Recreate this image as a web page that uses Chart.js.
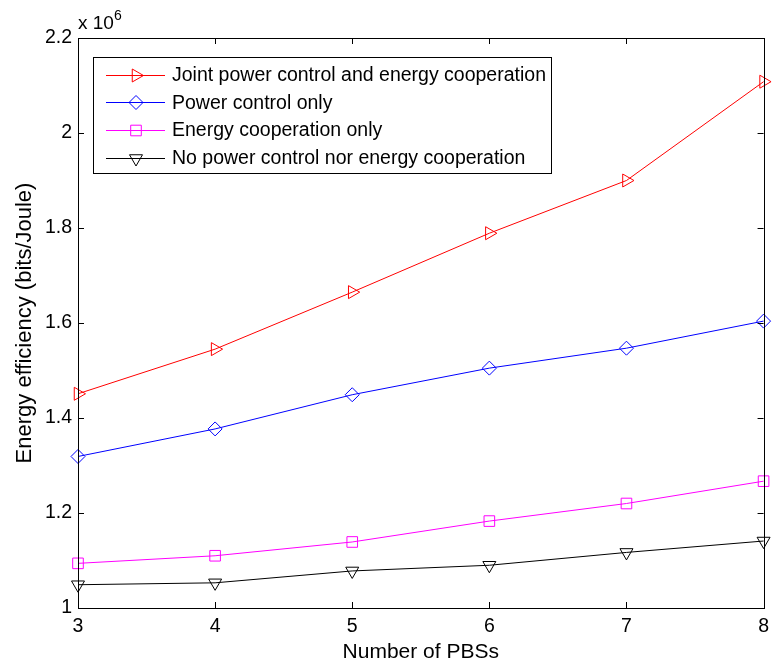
<!DOCTYPE html>
<html><head><meta charset="utf-8">
<script src="https://cdn.jsdelivr.net/npm/chart.js@4.4.1/dist/chart.umd.min.js"></script>
<style>html,body{margin:0;padding:0;background:#fff}#wrap{width:776px;height:668px}</style>
</head><body><div id="wrap"><canvas id="c" width="776" height="668"></canvas></div>
<script>
// ---- data (values in units of 10^6 bits/Joule) ----
const pbs = [3, 4, 5, 6, 7, 8];
const jointPcEc = [1.451, 1.545, 1.665, 1.789, 1.900, 2.108];
const pcOnly    = [1.319, 1.377, 1.449, 1.505, 1.547, 1.604];
const ecOnly    = [1.094, 1.110, 1.139, 1.183, 1.220, 1.267];
const noPcNoEc  = [1.049, 1.053, 1.078, 1.090, 1.117, 1.141];
const seriesNames = [
  'Joint power control and energy cooperation',
  'Power control only',
  'Energy cooperation only',
  'No power control nor energy cooperation'
];
const xTickValues = [3, 4, 5, 6, 7, 8];
const yTickValues = [1, 1.2, 1.4, 1.6, 1.8, 2, 2.2];
const yTickLabels = ['1', '1.2', '1.4', '1.6', '1.8', '2', '2.2'];
const xTitle = 'Number of PBSs';
const yTitle = 'Energy efficiency (bits/Joule)';

const FONT = '"Liberation Sans", Arial, Helvetica, sans-serif';

const styles = [
  {color: '#ff0000', pointStyle: 'triangle', radius: 7.5, rotation: 90},
  {color: '#0000ff', pointStyle: 'rectRot', radius: 7, rotation: 0},
  {color: '#ff00ff', pointStyle: 'rect', radius: 7.5, rotation: 0},
  {color: '#000000', pointStyle: 'triangle', radius: 7.5, rotation: 180}
];
const allSeries = [jointPcEc, pcOnly, ecOnly, noPcNoEc];

const datasets = allSeries.map((vals, i) => ({
  label: seriesNames[i],
  data: pbs.map((x, k) => ({x: x, y: vals[k]})),
  borderColor: styles[i].color,
  borderWidth: 1,
  pointStyle: styles[i].pointStyle,
  pointRadius: styles[i].radius,
  pointRotation: styles[i].rotation,
  pointBorderColor: styles[i].color,
  pointBackgroundColor: 'rgba(0,0,0,0)',
  pointBorderWidth: 1,
  tension: 0,
  fill: false,
  clip: false
}));

const frame = {
  id: 'frame',
  afterDraw(chart) {
    const {ctx, chartArea: a, scales} = chart;
    ctx.save();
    ctx.strokeStyle = '#000';
    ctx.lineWidth = 1;
    ctx.strokeRect(Math.round(a.left) + 0.5, Math.round(a.top) + 0.5,
                   Math.round(a.right - a.left), Math.round(a.bottom - a.top));
    const tl = 6;
    ctx.beginPath();
    xTickValues.forEach(v => {
      const x = Math.round(scales.x.getPixelForValue(v)) + 0.5;
      ctx.moveTo(x, a.bottom); ctx.lineTo(x, a.bottom - tl);
      ctx.moveTo(x, a.top); ctx.lineTo(x, a.top + tl);
    });
    yTickValues.forEach(v => {
      const y = Math.round(scales.y.getPixelForValue(v)) + 0.5;
      ctx.moveTo(a.left, y); ctx.lineTo(a.left + tl, y);
      ctx.moveTo(a.right, y); ctx.lineTo(a.right - tl, y);
    });
    ctx.stroke();

    // exponent label
    ctx.fillStyle = '#000';
    ctx.textBaseline = 'alphabetic';
    ctx.textAlign = 'left';
    ctx.font = '19px ' + FONT;
    ctx.fillText('x 10', 78, 29);
    ctx.font = '14px ' + FONT;
    ctx.fillText('6', 114, 20);

    // legend
    const lx = 93.5, ly = 57.5, lw = 458, lh = 116;
    ctx.fillStyle = '#fff';
    ctx.fillRect(lx, ly, lw, lh);
    ctx.strokeStyle = '#000';
    ctx.strokeRect(lx, ly, lw, lh);
    ctx.font = '19.5px ' + FONT;
    ctx.textBaseline = 'middle';
    seriesNames.forEach((name, i) => {
      const y = 74.7 + i * 27.7;
      const s = styles[i];
      ctx.strokeStyle = s.color;
      ctx.lineWidth = 1;
      ctx.beginPath();
      ctx.moveTo(106, Math.round(y) + 0.5); ctx.lineTo(165, Math.round(y) + 0.5);
      ctx.stroke();
      if (Chart.helpers && Chart.helpers.drawPoint) {
        ctx.fillStyle = 'rgba(0,0,0,0)';
        Chart.helpers.drawPoint(ctx, {pointStyle: s.pointStyle, radius: s.radius, rotation: s.rotation, borderWidth: 1}, 136, Math.round(y) + 0.5);
      }
      ctx.fillStyle = '#000';
      ctx.fillText(name, 172, y + 1);
    });
    ctx.restore();
  }
};

new Chart(document.getElementById('c'), {
  type: 'line',
  data: {datasets},
  options: {
    responsive: false,
    animation: false,
    devicePixelRatio: 1,
    layout: {padding: {top: 38, right: 6, left: 0, bottom: 0}},
    plugins: {legend: {display: false}, tooltip: {enabled: false}},
    scales: {
      x: {
        type: 'linear', min: 3, max: 8,
        grid: {display: false, drawTicks: false, tickLength: 0}, border: {display: false},
        afterBuildTicks: s => { s.ticks = xTickValues.map(v => ({value: v})); },
        afterFit: s => { s.height = 60; },
        ticks: {color: '#000', padding: 7, maxRotation: 0, autoSkip: false,
                font: {family: FONT, size: 19.5, lineHeight: 1.2},
                callback: v => String(v)},
        title: {display: true, text: xTitle, color: '#000',
                font: {family: FONT, size: 21, lineHeight: 1.2},
                padding: {top: 0, bottom: 3}}
      },
      y: {
        type: 'linear', min: 1, max: 2.2,
        grid: {display: false, drawTicks: false, tickLength: 0}, border: {display: false},
        afterBuildTicks: s => { s.ticks = yTickValues.map(v => ({value: v})); },
        afterFit: s => { s.width = 78; },
        ticks: {color: '#000', padding: 6, autoSkip: false,
                font: {family: FONT, size: 19.5, lineHeight: 1.2},
                callback: v => { const i = yTickValues.findIndex(t => Math.abs(t - v) < 1e-9); return i >= 0 ? yTickLabels[i] : ''; }},
        title: {display: true, text: yTitle, color: '#000',
                font: {family: FONT, size: 22, lineHeight: 1.2},
                padding: {top: 12, bottom: 0}}
      }
    }
  },
  plugins: [frame]
});
</script>
</body></html>
